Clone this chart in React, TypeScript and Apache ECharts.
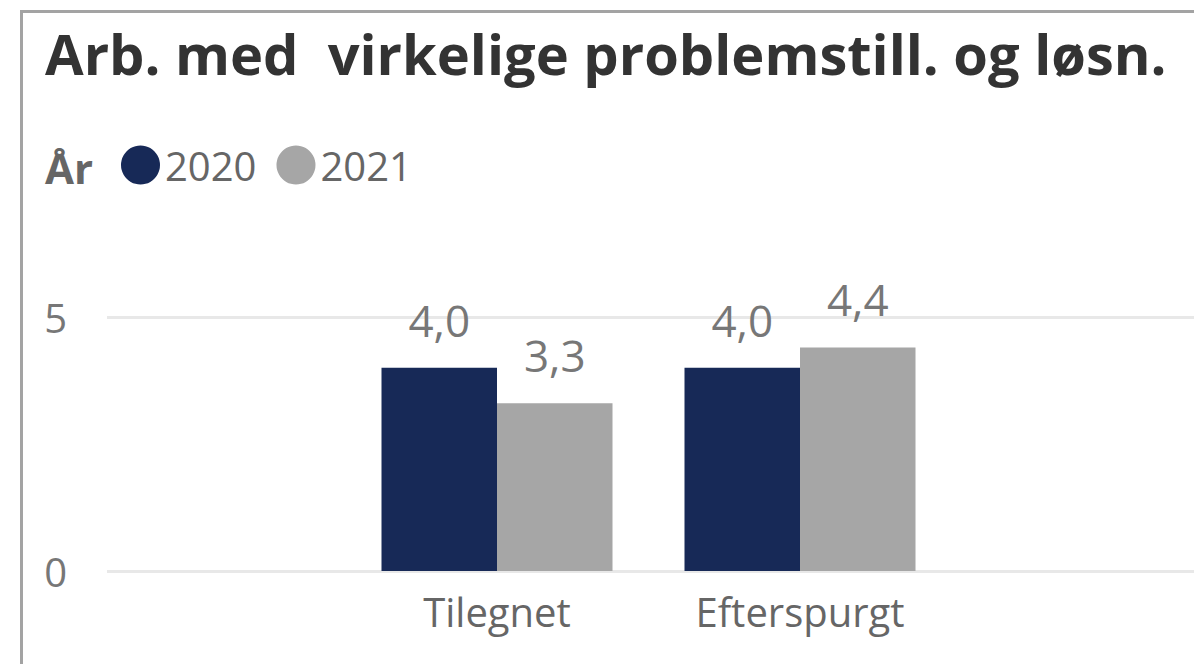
import React, { useEffect, useRef } from "react";
import * as echarts from "echarts";

const titleText = "Arb. med  virkelige problemstill. og løsn.";
const legendTitle = "År";
const categories = ["Tilegnet", "Efterspurgt"];
const seriesNames = ["2020", "2021"];
const values2020 = [4.0, 4.0];
const values2021 = [3.3, 4.4];
const colors = ["#172957", "#a6a6a6"];

const FONT = "'Open Sans', 'Noto Sans', sans-serif";

export default function App() {
  const ref = useRef<HTMLDivElement>(null);
  useEffect(() => {
    if (!ref.current) return;
    const chart = echarts.init(ref.current, undefined, { renderer: "svg" });
    const fmt = (p: any) => Number(p.value).toFixed(1).replace(".", ",");
    chart.setOption({
      animation: false,
      backgroundColor: "#ffffff",
      title: [
        {
          text: titleText,
          left: 40,
          top: 20,
          textStyle: { fontFamily: FONT, fontWeight: "bold", fontSize: 56, color: "#333333" },
        },
        {
          text: legendTitle,
          left: 40,
          top: 141,
          textStyle: { fontFamily: FONT, fontWeight: "bold", fontSize: 42, color: "#666666" },
        },
      ],
      legend: {
        left: 121,
        top: 145,
        padding: 0,
        icon: "circle",
        itemWidth: 39,
        itemHeight: 39,
        itemGap: 20,
        data: seriesNames,
        textStyle: { fontFamily: FONT, fontSize: 40, color: "#666666" },
      },
      grid: [
        { left: 107, right: 0, top: 317, bottom: 93, containLabel: false },
        { left: 345.5, width: 606, top: 317, bottom: 93, containLabel: false },
      ],
      xAxis: [
        { type: "category", gridIndex: 0, data: ["a"], show: false },
        {
          type: "category",
          gridIndex: 1,
          data: categories,
          axisLine: { show: false },
          axisTick: { show: false },
          axisLabel: { fontFamily: FONT, fontSize: 40, color: "#666666", margin: 20 },
        },
      ],
      yAxis: [
        {
          type: "value",
          gridIndex: 0,
          min: 0,
          max: 5,
          interval: 5,
          axisLine: { show: false },
          axisTick: { show: false },
          splitLine: { lineStyle: { color: "#e8e8e8", width: 3 } },
          axisLabel: { fontFamily: FONT, fontSize: 40, color: "#777777", margin: 40 },
        },
        {
          type: "value",
          gridIndex: 1,
          min: 0,
          max: 5,
          interval: 5,
          show: false,
          splitLine: { show: false },
        },
      ],
      series: [
        {
          name: seriesNames[0],
          type: "bar",
          xAxisIndex: 1,
          yAxisIndex: 1,
          data: values2020,
          barWidth: 115.5,
          barGap: "0%",
          itemStyle: { color: colors[0] },
          label: { show: true, position: "top", distance: 26, formatter: fmt, fontFamily: FONT, fontSize: 44, color: "#777777" },
        },
        {
          name: seriesNames[1],
          type: "bar",
          xAxisIndex: 1,
          yAxisIndex: 1,
          data: values2021,
          barWidth: 115.5,
          barGap: "0%",
          itemStyle: { color: colors[1] },
          label: { show: true, position: "top", distance: 26, formatter: fmt, fontFamily: FONT, fontSize: 44, color: "#777777" },
        },
      ],
      graphic: [
        {
          type: "rect",
          shape: { x: 21.5, y: 11.5, width: 2000, height: 2000 },
          style: { fill: "none", stroke: "#a3a3a3", lineWidth: 3 },
          silent: true,
          z: 100,
        },
      ],
    });
    return () => chart.dispose();
  }, []);
  return <div ref={ref} style={{ position: "fixed", left: 0, top: 0, width: 1194, height: 664 }} />;
}
